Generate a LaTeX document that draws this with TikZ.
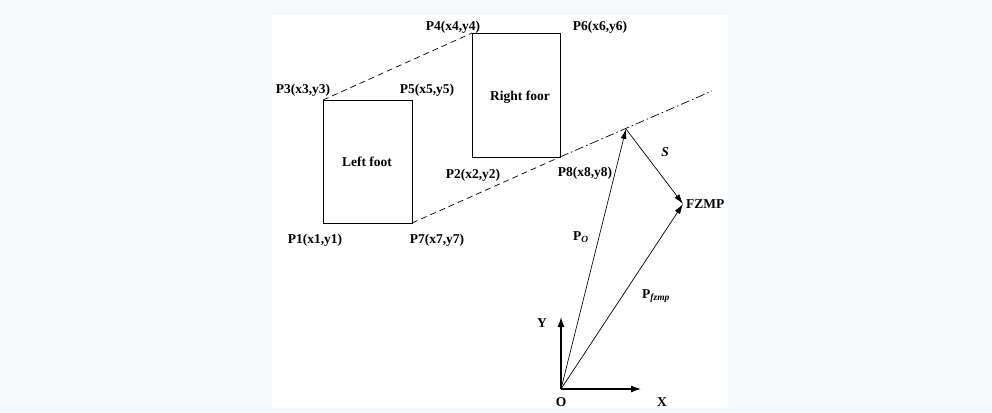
\documentclass[tikz,border=0pt]{standalone}
\usepackage{fontspec}
\setmainfont{Liberation Serif}
\usetikzlibrary{arrows.meta,positioning}
\definecolor{pagebg}{RGB}{246,249,252}
\tikzset{
lbl/.style={
  font=\fontsize{13.5}{15}\selectfont\bfseries,
  inner sep=0pt
  },
foot/.style={
  draw,
  line width=0.8pt
  },
link/.style={
  dashed,
  dash pattern=on 6pt off 4pt,
  line width=0.7pt
  },
vec/.style={
  -{Latex[length=10pt,width=6pt]},
  line width=0.7pt
  },
axis/.style={
  -{Latex[length=10pt,width=7pt]},
  line width=1.3pt
  }
}
\begin{document}
\begin{tikzpicture}[x=1pt,y=-1pt]
\fill[pagebg] (0,0) rectangle (992,412);
\fill[white] (272,15) rectangle (728,408);

% corners of the feet
\coordinate (P1) at (323,223);
\coordinate (P3) at (323,100);
\coordinate (P5) at (412,100);
\coordinate (P7) at (412,223);
\coordinate (P2) at (472,157);
\coordinate (P4) at (472,33);
\coordinate (P6) at (560,33);
\coordinate (P8) at (560,157);
\coordinate (far) at (712,91);

\coordinate (O) at (561,389);
\coordinate (top) at (626,129);
\coordinate (fzmp) at (683,204);
\coordinate (yend) at (561,317);
\coordinate (xend) at (641,389);

\draw[foot] (P1) -- (P3) -- (P5) -- (P7) -- cycle;
\draw[foot] (P2) -- (P4) -- (P6) -- (P8) -- cycle;

\draw[link] (P3) -- (P4);
\draw[link] (P7) -- (P8);
\draw[line width=0.7pt,dash pattern=on 9pt off 3pt on 1.5pt off 3pt] (P8) -- (far);

\draw[vec] (O) -- (top);
\draw[vec] (top) -- (fzmp);
\draw[vec] (O) -- (fzmp);

\draw[axis] (O) -- (yend);
\draw[axis] (O) -- (xend);

% labels
\node[lbl] (l1) at (315,240) {P1(x1,y1)};
\node[lbl] (l7) at (437,240) {P7(x7,y7)};
\node[lbl] (l3) at (303,90) {P3(x3,y3)};
\node[lbl] (l5) at (427,90) {P5(x5,y5)};
\node[lbl] (l4) at (453,27) {P4(x4,y4)};
\node[lbl] (l6) at (600,27) {P6(x6,y6)};
\node[lbl] (l2) at (473,175) {P2(x2,y2)};
\node[lbl] (l8) at (585,173) {P8(x8,y8)};
\node[lbl] (left) at (367,162) {Left foot};
\node[lbl] (right) at (520,97) {Right foor};
\node[lbl,right=3pt of fzmp] (lf) {FZMP};
\node[lbl] (ls) at (665,152) {\itshape S};
\node[lbl] (lpo) at (581,237) {P\textsubscript{\itshape O}};
\node[lbl] (lpf) at (656,296) {P\textsubscript{\itshape fzmp}};
\node[lbl] (lo) at (561,402) {O};
\node[lbl] (lx) at (662,402) {X};
\node[lbl] (ly) at (542,323) {Y};
\end{tikzpicture}
\end{document}
